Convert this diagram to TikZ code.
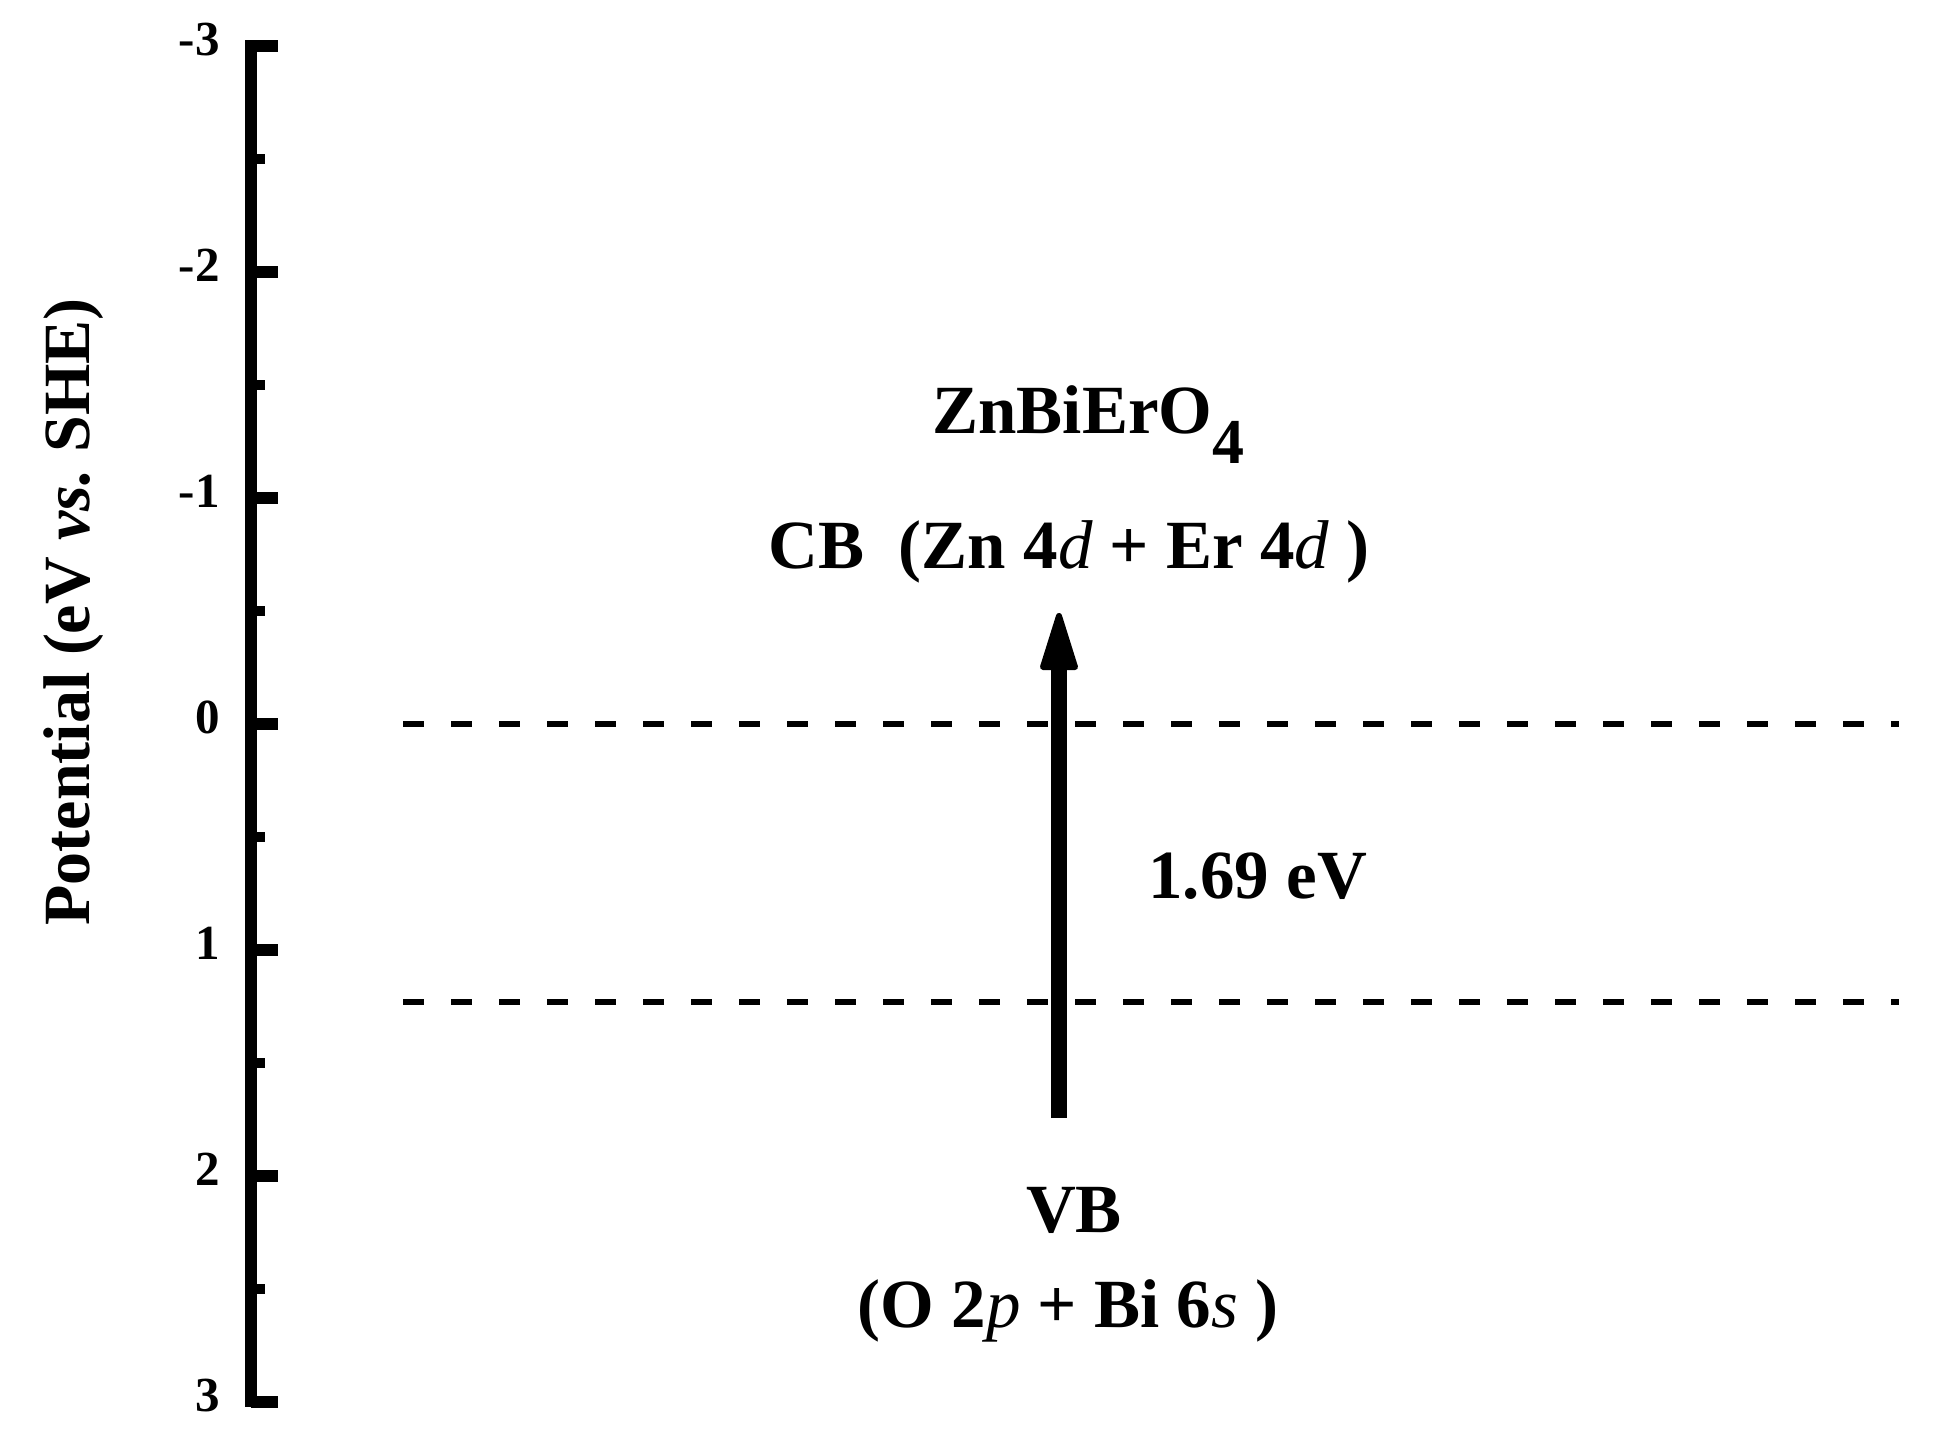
\documentclass[tikz,border=0pt]{standalone}
\usepackage{fontspec}
\setmainfont{Liberation Serif}
\frenchspacing
\begin{document}
\begin{tikzpicture}[x=0.5pt,y=-0.5pt,
  lbl/.style={inner sep=0pt,font=\fontsize{34.5}{40}\selectfont\bfseries},
  ticklbl/.style={inner sep=0pt,anchor=base east,font=\fontsize{24.5}{28}\selectfont\bfseries},
  axisline/.style={line width=6pt},
  majtick/.style={line width=6pt},
  mintick/.style={line width=5pt},
  level/.style={line width=3pt,dash pattern=on 10.35pt off 13.65pt},
  shaft/.style={line width=8pt},
  head/.style={fill=black,draw=black,line width=3pt,line join=round}]
\useasboundingbox (0,0) rectangle (1933,1452);
% axis
\coordinate (axtop) at (251,40);
\coordinate (axbot) at (251,1407);
\draw[axisline] (axtop) -- (axbot);
\foreach \v/\t [count=\i from 0] in {-3/-3,-2/-2,-1/-1,0/0,1/1,2/2,3/3}{
  \pgfmathsetmacro{\yy}{46+226*\i}
  \coordinate (mt\i) at (251,\yy);
  \draw[majtick] (mt\i) -- ++(27,0);
  \node[ticklbl] (tl\i) at (220,\yy+9) {\t};
}
\foreach \i in {0,...,5}{
  \pgfmathsetmacro{\yy}{46+226*\i+113}
  \coordinate (nt\i) at (251,\yy);
  \draw[mintick] (nt\i) -- ++(14,0);
}
% y label
\node[lbl,font=\fontsize{33}{40}\selectfont\bfseries,rotate=90,anchor=base] (ylab) at (89,612) {Potential (eV \textit{vs.} SHE)};
% levels
\coordinate (l0a) at (403,724);
\coordinate (l0b) at (1899,724);
\coordinate (l1a) at (403,1001.5);
\coordinate (l1b) at (1899,1001.5);
\draw[level] (l0a) -- (l0b);
\draw[level] (l1a) -- (l1b);
% texts
\node[lbl,anchor=base west] (title) at (932,433) {ZnBiErO\raisebox{-15pt}{\fontsize{32}{32}\selectfont 4}};
\node[lbl,anchor=base] (cb) at (1069,568) {CB\ \ (Zn 4{\mdseries\itshape d} + Er 4{\mdseries\itshape d} )};
\node[lbl,anchor=base west] (gap) at (1148,898) {1.69 eV};
\node[lbl,anchor=base] (vb) at (1074,1232) {VB};
\node[lbl,anchor=base] (vborb) at (1068,1327) {(O 2{\mdseries\itshape p} + Bi 6{\mdseries\itshape s} )};
% arrow
\coordinate (arrbot) at (1059,1118);
\coordinate (arrbase) at (1059,668);
\draw[shaft] (arrbot) -- (arrbase);
\path[head] (1059,616) -- (1043,667) -- (1075,667) -- cycle;
\end{tikzpicture}
\end{document}
